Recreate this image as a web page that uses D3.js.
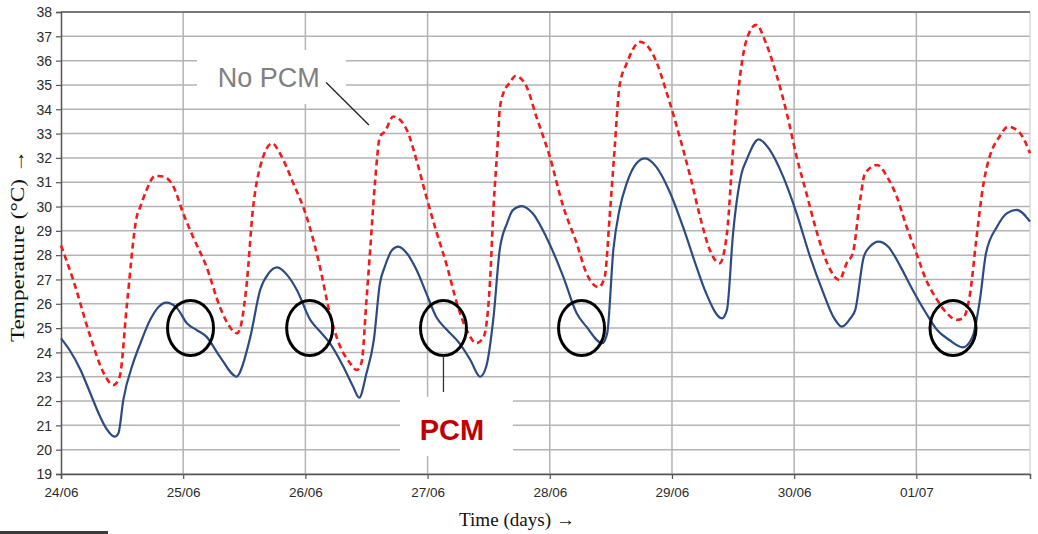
<!DOCTYPE html>
<html>
<head>
<meta charset="utf-8">
<script src="https://cdn.jsdelivr.net/npm/d3@7"></script>
<style>
  html, body { margin: 0; padding: 0; background: #fff; }
  svg { display: block; }
</style>
</head>
<body>
<svg id="chart" width="1038" height="534"></svg>
<script>
// ---- data ----
const dayLabels = ["24/06", "25/06", "26/06", "27/06", "28/06", "29/06", "30/06", "01/07"];
const yTicks = d3.range(19, 39);

// No PCM (red dashed): time in days since 24/06, temperature in °C
const noPcmDays = [0, 0.10, 0.24, 0.35, 0.43, 0.48, 0.54, 0.62, 0.65, 0.70, 0.77, 0.84, 0.92, 1.00, 1.08, 1.19, 1.30, 1.38, 1.44, 1.46, 1.52, 1.57, 1.63, 1.73, 1.79, 1.90, 2.01, 2.12, 2.20, 2.28, 2.36, 2.42, 2.46, 2.50, 2.53, 2.57, 2.61, 2.65, 2.72, 2.83, 2.91, 2.99, 3.07, 3.16, 3.24, 3.32, 3.40, 3.46, 3.51, 3.54, 3.57, 3.59, 3.62, 3.67, 3.72, 3.81, 3.89, 4.00, 4.11, 4.22, 4.30, 4.40, 4.45, 4.49, 4.53, 4.57, 4.63, 4.74, 4.84, 4.98, 5.07, 5.15, 5.23, 5.31, 5.39, 5.45, 5.50, 5.56, 5.61, 5.69, 5.77, 5.86, 5.94, 6.02, 6.10, 6.18, 6.27, 6.37, 6.43, 6.48, 6.54, 6.58, 6.68, 6.76, 6.84, 6.92, 7.00, 7.08, 7.17, 7.25, 7.33, 7.38, 7.44, 7.49, 7.55, 7.60, 7.68, 7.75, 7.85, 7.93];
const noPcmTemp = [28.4, 26.98, 24.65, 23.14, 22.66, 23.0, 26.0, 29.58, 30.0, 30.68, 31.26, 31.23, 30.82, 29.72, 28.76, 27.53, 25.88, 25.06, 24.79, 24.9, 26.84, 29.86, 31.64, 32.6, 32.2, 30.97, 29.58, 27.5, 25.6, 24.3, 23.6, 23.28, 23.6, 26.16, 28.2, 31.0, 32.87, 33.08, 33.7, 33.15, 31.9, 30.4, 29.0, 27.53, 26.02, 24.92, 24.38, 24.65, 26.84, 30.0, 32.3, 33.97, 34.66, 35.07, 35.37, 34.93, 33.7, 32.05, 30.0, 28.49, 27.26, 26.68, 27.12, 29.58, 32.33, 34.93, 35.89, 36.77, 36.3, 34.3, 32.74, 31.23, 29.58, 28.21, 27.67, 28.9, 32.33, 35.48, 36.85, 37.47, 36.71, 35.34, 33.83, 32.05, 30.55, 29.04, 27.67, 26.98, 27.67, 28.08, 30.27, 31.37, 31.71, 31.23, 30.4, 29.17, 28.08, 26.98, 26.16, 25.61, 25.34, 25.4, 26.43, 28.62, 30.96, 32.05, 32.87, 33.28, 33.01, 32.19];

// PCM (blue solid)
const pcmDays = [0, 0.07, 0.16, 0.24, 0.32, 0.37, 0.44, 0.47, 0.51, 0.59, 0.65, 0.73, 0.80, 0.86, 0.95, 1.03, 1.11, 1.19, 1.30, 1.44, 1.46, 1.55, 1.63, 1.70, 1.77, 1.85, 1.93, 2.04, 2.12, 2.20, 2.31, 2.39, 2.44, 2.50, 2.56, 2.61, 2.65, 2.71, 2.76, 2.83, 2.91, 2.99, 3.07, 3.16, 3.26, 3.35, 3.43, 3.48, 3.54, 3.59, 3.65, 3.70, 3.77, 3.86, 3.97, 4.11, 4.22, 4.30, 4.43, 4.47, 4.52, 4.57, 4.63, 4.71, 4.78, 4.87, 4.98, 5.09, 5.20, 5.28, 5.41, 5.45, 5.50, 5.57, 5.61, 5.71, 5.80, 5.91, 6.02, 6.13, 6.24, 6.32, 6.39, 6.46, 6.50, 6.57, 6.62, 6.69, 6.77, 6.87, 6.97, 7.08, 7.17, 7.27, 7.38, 7.46, 7.52, 7.57, 7.66, 7.74, 7.82, 7.93];
const pcmTemp = [24.58, 24.1, 23.28, 22.32, 21.36, 20.88, 20.54, 20.68, 22.05, 23.56, 24.38, 25.34, 25.88, 26.05, 25.82, 25.2, 24.92, 24.65, 23.83, 23.0, 23.14, 24.65, 26.57, 27.26, 27.5, 27.19, 26.57, 25.34, 24.86, 24.38, 23.42, 22.6, 22.14, 23.14, 24.51, 26.84, 27.53, 28.21, 28.35, 28.08, 27.39, 26.43, 25.47, 24.92, 24.38, 23.69, 23.0, 23.42, 25.47, 28.21, 29.31, 29.86, 30.02, 29.72, 28.76, 27.12, 25.61, 25.06, 24.38, 24.79, 28.21, 29.86, 30.96, 31.78, 31.98, 31.64, 30.62, 29.17, 27.53, 26.43, 25.4, 25.75, 28.9, 31.37, 31.91, 32.76, 32.33, 31.23, 29.72, 27.94, 26.43, 25.47, 25.06, 25.4, 25.75, 27.94, 28.35, 28.56, 28.35, 27.53, 26.57, 25.61, 24.92, 24.51, 24.21, 24.65, 26.16, 28.08, 29.17, 29.72, 29.86, 29.38];

// highlighted points (PCM melting plateau ~25 °C)
const circleDays = [1.06, 2.035, 3.13, 4.26, 7.30];
const circleTemp = [25, 25, 25, 25, 25];

// ---- chart ----
const svg = d3.select("#chart");
const x = d3.scaleLinear().domain([0, 7.93]).range([61, 1030]);
const y = d3.scaleLinear().domain([19, 38]).range([474, 12]);

// grid
svg.append("g").selectAll("line").data(yTicks).join("line")
  .attr("x1", x(0)).attr("x2", x(7.93))
  .attr("y1", d => y(d)).attr("y2", d => y(d))
  .attr("stroke", "#b3b3b3").attr("stroke-width", 1.5);
svg.append("g").selectAll("line").data(d3.range(1, 8)).join("line")
  .attr("x1", d => x(d)).attr("x2", d => x(d))
  .attr("y1", y(19)).attr("y2", y(38))
  .attr("stroke", "#b3b3b3").attr("stroke-width", 1.5);
// right edge
svg.append("line").attr("x1", x(7.93)).attr("x2", x(7.93)).attr("y1", y(19)).attr("y2", y(38))
  .attr("stroke", "#d0d0d0").attr("stroke-width", 1.2);
// top border
svg.append("line").attr("x1", x(0)).attr("x2", x(7.93)).attr("y1", y(38)).attr("y2", y(38))
  .attr("stroke", "#7a7a7a").attr("stroke-width", 2);

// label boxes (white, hide grid)
svg.append("rect")
  .attr("x", x(1.113)).attr("y", y(36.44))
  .attr("width", x(2.332) - x(1.113)).attr("height", y(34.22) - y(36.44))
  .attr("fill", "#fff");
svg.append("rect")
  .attr("x", x(2.774)).attr("y", y(22.17))
  .attr("width", x(3.699) - x(2.774)).attr("height", y(19.74) - y(22.17))
  .attr("fill", "#fff");

// axes
const yAxis = d3.axisLeft(y).tickValues(yTicks).tickSize(5).tickFormat(d3.format("d"));
const gy = svg.append("g").attr("transform", `translate(${x(0)},0)`).call(yAxis);
gy.select(".domain").attr("stroke", "#555").attr("stroke-width", 1.5);
gy.selectAll(".tick line").attr("stroke", "#555").attr("stroke-width", 1.2);
gy.selectAll(".tick text").attr("font-family", "Liberation Sans, Arial, sans-serif")
  .attr("font-size", 14).attr("fill", "#2a2a2a").attr("x", -9).attr("dy", "0.34em");

const xAxis = d3.axisBottom(x).tickValues(d3.range(0, 8)).tickSize(5)
  .tickFormat((d, i) => dayLabels[i]);
const gx = svg.append("g").attr("transform", `translate(0,${y(19)})`).call(xAxis);
gx.select(".domain").attr("stroke", "#555").attr("stroke-width", 1.5);
gx.selectAll(".tick line").attr("stroke", "#555").attr("stroke-width", 1.2);
gx.selectAll(".tick text").attr("font-family", "Liberation Sans, Arial, sans-serif")
  .attr("font-size", 13.5).attr("fill", "#2a2a2a").attr("y", 13).attr("dy", "0.71em");

// lines
const line = d3.line().x(d => x(d[0])).y(d => y(d[1])).curve(d3.curveMonotoneX);
svg.append("path").datum(d3.zip(pcmDays, pcmTemp))
  .attr("d", line).attr("fill", "none")
  .attr("stroke", "#2c4b82").attr("stroke-width", 2.2).attr("stroke-linejoin", "round");
svg.append("path").datum(d3.zip(noPcmDays, noPcmTemp))
  .attr("d", line).attr("fill", "none")
  .attr("stroke", "#f01c1c").attr("stroke-width", 2.6).attr("stroke-dasharray", "6,4");

// circles
svg.append("g").selectAll("ellipse").data(d3.zip(circleDays, circleTemp)).join("ellipse")
  .attr("cx", d => x(d[0])).attr("cy", d => y(d[1]))
  .attr("rx", 23).attr("ry", 27.5)
  .attr("fill", "none").attr("stroke", "#000").attr("stroke-width", 3);

// annotations
svg.append("line")
  .attr("x1", x(2.17)).attr("y1", y(35.1)).attr("x2", x(2.52)).attr("y2", y(33.35))
  .attr("stroke", "#222").attr("stroke-width", 1.3);
svg.append("text").attr("x", x(1.70)).attr("y", y(34.92))
  .attr("text-anchor", "middle").attr("font-family", "Liberation Sans, Arial, sans-serif")
  .attr("font-size", 27).attr("fill", "#808080").text("No PCM");

svg.append("line")
  .attr("x1", x(3.13)).attr("y1", y(25) + 27.5).attr("x2", x(3.13)).attr("y2", y(22.37))
  .attr("stroke", "#333").attr("stroke-width", 1.3);
svg.append("text").attr("x", x(3.20)).attr("y", y(20.38))
  .attr("text-anchor", "middle").attr("font-family", "Liberation Sans, Arial, sans-serif")
  .attr("font-weight", "bold").attr("font-size", 29).attr("fill", "#c00000").text("PCM");

// axis titles
svg.append("text").attr("transform", "translate(24,246) rotate(-90)")
  .attr("text-anchor", "middle").attr("font-family", "Liberation Serif, Times New Roman, serif")
  .attr("font-size", 18).attr("fill", "#111")
  .attr("textLength", 192).attr("lengthAdjust", "spacingAndGlyphs")
  .text("Temperature (°C) →");
svg.append("text").attr("x", 517).attr("y", 526)
  .attr("text-anchor", "middle").attr("font-family", "Liberation Serif, Times New Roman, serif")
  .attr("font-size", 19).attr("fill", "#111")
  .attr("textLength", 116).attr("lengthAdjust", "spacingAndGlyphs")
  .text("Time (days) →");

// small dark strip at bottom-left of the original picture
svg.append("rect").attr("x", 0).attr("y", 531).attr("width", 108).attr("height", 3).attr("fill", "#3a3a3a");
</script>
</body>
</html>
